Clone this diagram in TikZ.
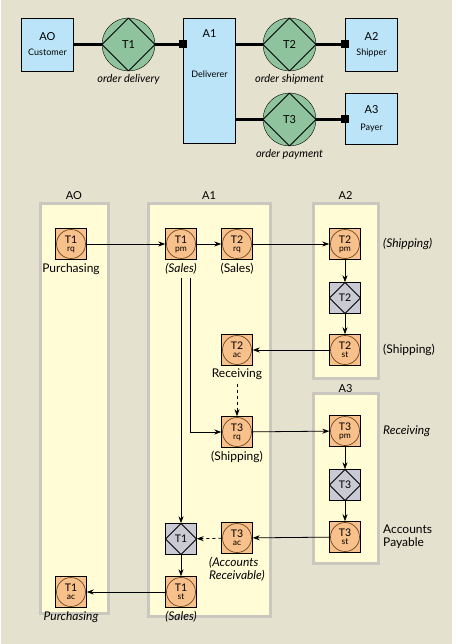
\documentclass[tikz,border=0pt]{standalone}
\usepackage{fontspec}
\setmainfont{Lato}
\usetikzlibrary{arrows.meta}

\definecolor{bgbeige}{HTML}{E4E1CE}
\definecolor{lanefill}{HTML}{FFFCD6}
\definecolor{laneedge}{HTML}{C9C7BE}
\definecolor{actfill}{HTML}{F8C08A}
\definecolor{circedge}{HTML}{6B4A2A}
\definecolor{execfill}{HTML}{C9CAD4}
\definecolor{transfill}{HTML}{8FC39E}
\definecolor{actorfill}{HTML}{BCE4F8}

\newcommand{\actlbl}[2]{#1\\[-2.5pt]{\fontsize{8.5}{8.5}\selectfont #2}}

\tikzset{
  lane/.style={fill=lanefill, draw=laneedge, line width=3pt},
  act/.style={draw, fill=actfill, minimum size=31pt, inner sep=0pt, align=center,
    font=\fontsize{10.5}{10.5}\selectfont,
    path picture={\draw[circedge, line width=0.7pt] (path picture bounding box.center) circle (14.5pt);}},
  exec/.style={draw, fill=execfill, minimum size=31pt, inner sep=0pt,
    font=\fontsize{10.5}{10.5}\selectfont,
    path picture={\draw[line width=0.8pt] (path picture bounding box.north) -- (path picture bounding box.east)
      -- (path picture bounding box.south) -- (path picture bounding box.west) -- cycle;}},
  trans/.style={circle, draw, fill=transfill, minimum size=53pt, inner sep=0pt,
    font=\fontsize{11}{11}\selectfont,
    path picture={\draw[line width=0.8pt] (path picture bounding box.north) -- (path picture bounding box.east)
      -- (path picture bounding box.south) -- (path picture bounding box.west) -- cycle;}},
  actor/.style={draw, fill=actorfill, minimum width=52pt, minimum height=53pt, inner sep=0pt, align=center},
  conn/.style={fill, minimum size=8pt, inner sep=0pt},
  link/.style={line width=2.6pt},
}

\begin{document}
\begin{tikzpicture}[x=1pt, y=-1pt, >={Stealth[length=7pt, width=5pt]}, every label/.style={font=\fontsize{12}{13}\selectfont}]
    \useasboundingbox (0,0) rectangle (457,644);
    \fill[bgbeige] (1,0) rectangle (452,644);

    % actor diagram
    \node[actor] (ao) at (47.5,44.5) {{\fontsize{11}{12}\selectfont AO}\\[3pt]{\fontsize{9}{10}\selectfont Customer}};
    \node[trans, label={[font=\fontsize{11}{12}\selectfont\itshape]below:order delivery}] (t1) at (128.5,44.5) {T1};
    \node[actor, minimum height=125pt, anchor=north] (a1) at (209.5,18) {};
    \node[font=\fontsize{11}{12}\selectfont] (a1name) at (209.5,34) {A1};
    \node[font=\fontsize{9}{10}\selectfont] (a1role) at (209.5,74) {Deliverer};
    \node[trans, label={[font=\fontsize{11}{12}\selectfont\itshape]below:order shipment}] (t2) at (289.5,44.5) {T2};
    \node[actor] (a2) at (371.5,44.5) {{\fontsize{11}{12}\selectfont A2}\\[3pt]{\fontsize{9}{10}\selectfont Shipper}};
    \node[trans, label={[font=\fontsize{11}{12}\selectfont\itshape]below:order payment}] (t3) at (289.5,119.5) {T3};
    \node[actor, minimum height=51pt] (a3) at (371.5,118.5) {{\fontsize{11}{12}\selectfont A3}\\[5pt]{\fontsize{9}{10}\selectfont Payer}};

    \draw[link] (ao) -- (t1) -- (a1.west |- t1) node[conn] (c1) {};
    \draw[link] (a1.east |- t2) -- (t2) -- (a2.west) node[conn] (c2) {};
    \draw[link] (a1.east |- t3) -- (t3) -- (a3.west |- t3) node[conn] (c3) {};

    % lanes
    \draw[lane] (40,204) rectangle (108,613);
    \draw[lane] (148,204) rectangle (270,616);
    \draw[lane] (313,204) rectangle (378,378);
    \draw[lane] (313,393) rectangle (378,563);
    \node[font=\fontsize{11}{12}\selectfont] (hao) at (74,196) {AO};
    \node[font=\fontsize{11}{12}\selectfont] (ha1) at (209,196) {A1};
    \node[font=\fontsize{11}{12}\selectfont] (ha2) at (345.5,196) {A2};
    \node[font=\fontsize{11}{12}\selectfont] (ha3) at (345.5,389) {A3};

    % process steps
    \node[act, label=below:Purchasing] (t1rq) at (71,244) {\actlbl{T1}{rq}};
    \node[act, label={[name=sales1, font=\fontsize{12}{13}\selectfont\itshape]below:(Sales)}] (t1pm) at (181,244) {\actlbl{T1}{pm}};
    \node[act, label=below:(Sales)] (t2rq) at (237,244) {\actlbl{T2}{rq}};
    \node[act, label={[label distance=19pt, font=\fontsize{12}{13}\selectfont\itshape]right:(Shipping)}] (t2pm) at (345,244) {\actlbl{T2}{pm}};
    \node[exec] (t2ex) at (345,298) {T2};
    \node[act, label={[label distance=19pt]right:(Shipping)}] (t2st) at (345,350) {\actlbl{T2}{st}};
    \node[act, label={[name=recv]below:Receiving}] (t2ac) at (237,350) {\actlbl{T2}{ac}};
    \node[act, label=below:(Shipping)] (t3rq) at (237,432) {\actlbl{T3}{rq}};
    \node[act, label={[label distance=19pt, font=\fontsize{12}{13}\selectfont\itshape]right:Receiving}] (t3pm) at (345,431) {\actlbl{T3}{pm}};
    \node[exec] (t3ex) at (345,485) {T3};
    \node[act, label={[label distance=19pt, align=left]right:Accounts\\Payable}] (t3st) at (345,537) {\actlbl{T3}{st}};
    \node[act, label={[align=left, font=\fontsize{12}{13}\selectfont\itshape]below:(Accounts\\Receivable)}] (t3ac) at (237,538) {\actlbl{T3}{ac}};
    \node[exec] (t1ex) at (181,539) {T1};
    \node[act, label={[font=\fontsize{12}{13}\selectfont\itshape]below:(Sales)}] (t1st) at (181,592) {\actlbl{T1}{st}};
    \node[act, label={[font=\fontsize{12}{13}\selectfont\itshape]below:Purchasing}] (t1ac) at (71,592) {\actlbl{T1}{ac}};

    % flows
    \draw[->, line width=0.8pt] (t1rq) -- (t1pm);
    \draw[->, line width=0.8pt] (t1pm) -- (t2rq);
    \draw[->, line width=0.8pt] (t2rq) -- (t2pm);
    \draw[->, line width=0.8pt] (t2pm) -- (t2ex);
    \draw[->, line width=0.8pt] (t2ex) -- (t2st);
    \draw[->, line width=0.8pt] (t2st) -- (t2ac);
    \draw[->, line width=0.8pt, dashed] (recv.south) -- (t3rq);
    \draw[->, line width=0.8pt] (sales1.south -| t1pm) -- (t1ex);
    \draw[->, line width=0.8pt] ([xshift=9pt]sales1.south -| t1pm) |- (t3rq);
    \draw[->, line width=0.8pt] (t3rq) -- (t3pm);
    \draw[->, line width=0.8pt] (t3pm) -- (t3ex);
    \draw[->, line width=0.8pt] (t3ex) -- (t3st);
    \draw[->, line width=0.8pt] (t3st) -- (t3ac);
    \draw[->, line width=0.8pt, dashed] (t3ac) -- (t1ex);
    \draw[->, line width=0.8pt] (t1ex) -- (t1st);
    \draw[->, line width=0.8pt] (t1st) -- (t1ac);
\end{tikzpicture}
\end{document}
